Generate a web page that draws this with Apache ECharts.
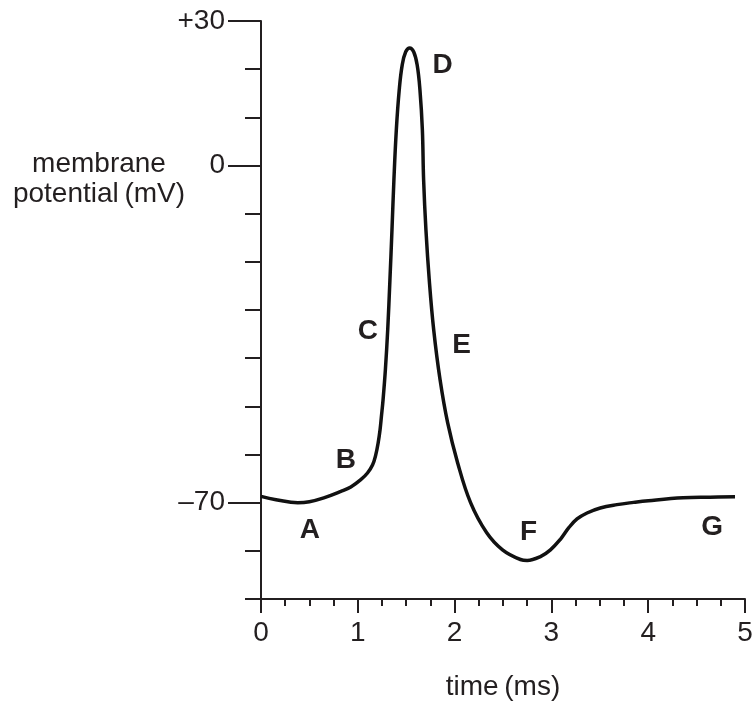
<!DOCTYPE html>
<html>
<head>
<meta charset="utf-8">
<script src="https://cdn.jsdelivr.net/npm/echarts@6/dist/echarts.min.js"></script>
<style>html,body{margin:0;padding:0;background:#fff}#c{width:754px;height:706px}</style>
</head>
<body>
<div id="c"></div>
<script>
// time (ms)
const timeMs = [0,0.155,0.309,0.38,0.5,0.649,0.825,0.928,1.031,1.100,1.152,1.186,1.210,1.230,1.244,1.261,1.285,1.309,1.332,1.353,1.373,1.398,1.428,1.459,1.495,1.536,1.577,1.613,1.642,1.667,1.680,1.704,1.738,1.784,1.850,1.928,2.031,2.165,2.330,2.495,2.680,2.75,2.887,2.990,3.093,3.178,3.265,3.368,3.505,3.677,3.849,4.003,4.361,4.639,4.897];
// membrane potential (mV)
const potential = [-68.7,-69.4,-69.9,-70,-69.8,-69.0,-67.66,-66.74,-65.23,-63.84,-62.2,-60.04,-57.61,-54.85,-52.10,-48.63,-42.4,-34.1,-23.7,-13.4,-3.0,7.4,15.7,20.9,23.6,24.4,23.6,20.9,15.7,7.4,-3.0,-13.4,-23.7,-34.1,-44.5,-53.4,-61.7,-70,-76.2,-79.8,-81.8,-82.0,-81.2,-79.8,-77.6,-75.25,-73.38,-72.14,-71.10,-70.41,-69.94,-69.59,-69.0,-68.86,-68.75];
// point labels
const pointNames = ['A','B','C','D','E','F','G'];
const pointX = [0.505,0.876,1.103,1.876,2.072,2.763,4.66];
const pointY = [-75.8,-61.3,-34.4,20.9,-37.3,-76.2,-75.2];
// axis tick labels
const yLabelValues = [30,0,-70];
const yLabelTexts = {'30':'+30','0':'0','-70':'\u201370'};

const ink = '#231f20';
const font = '"Liberation Sans", Arial, Helvetica, sans-serif';
const fs = 28;

const chart = echarts.init(document.getElementById('c'));
chart.setOption({
  animation: false,
  backgroundColor: '#ffffff',
  grid: {left: 261, right: 9, top: 21, bottom: 107, containLabel: false, outerBoundsMode: 'none'},
  xAxis: {
    type: 'value', min: 0, max: 5, interval: 1,
    axisLine: {show: true, onZero: false, lineStyle: {color: ink, width: 2}},
    axisTick: {show: true, length: 14, lineStyle: {color: ink, width: 2}},
    minorTick: {show: true, splitNumber: 4, length: 7, lineStyle: {color: ink, width: 2}},
    axisLabel: {color: ink, fontSize: fs, fontFamily: font, margin: 20,
      formatter: v => String(v)},
    splitLine: {show: false},
    name: 'time\u2009(ms)', nameLocation: 'middle', nameGap: 74,
    nameTextStyle: {color: ink, fontSize: fs, fontFamily: font}
  },
  yAxis: [{
    type: 'value', min: -90, max: 30, interval: 10,
    axisLine: {show: true, onZero: false, lineStyle: {color: ink, width: 2}},
    axisTick: {show: true, length: 16, lineStyle: {color: ink, width: 2}},
    axisLabel: {show: false},
    splitLine: {show: false}
  },{
    type: 'value', min: -90, max: 30, interval: 10, position: 'left',
    axisLine: {show: false},
    axisTick: {show: true, length: 33, customValues: yLabelValues, lineStyle: {color: ink, width: 2}},
    axisLabel: {show: true, customValues: yLabelValues, color: ink, fontSize: fs, fontFamily: font, margin: 36,
      formatter: v => yLabelTexts[String(v)] || ''},
    splitLine: {show: false}
  }],
  graphic: [{
    type: 'text',
    style: {text: 'membrane', x: 99, y: 164, textAlign: 'center', textVerticalAlign: 'middle',
      fill: ink, font: fs + 'px ' + font}
  },{
    type: 'text',
    style: {text: 'potential\u2009(mV)', x: 99, y: 194, textAlign: 'center', textVerticalAlign: 'middle',
      fill: ink, font: fs + 'px ' + font}
  }],
  series: [{
    type: 'line', yAxisIndex: 0,
    data: timeMs.map((t, i) => [t, potential[i]]),
    smooth: 0.4, showSymbol: false,
    lineStyle: {color: '#111', width: 3.5}
  },{
    type: 'scatter', yAxisIndex: 0, symbolSize: 0,
    itemStyle: {opacity: 1},
    data: pointNames.map((n, i) => ({name: n, value: [pointX[i], pointY[i]]})),
    label: {show: true, position: 'inside', formatter: p => p.name, opacity: 1,
      textBorderWidth: 0, color: ink, fontSize: fs, fontWeight: 'bold', fontFamily: font}
  }]
});
</script>
</body>
</html>
